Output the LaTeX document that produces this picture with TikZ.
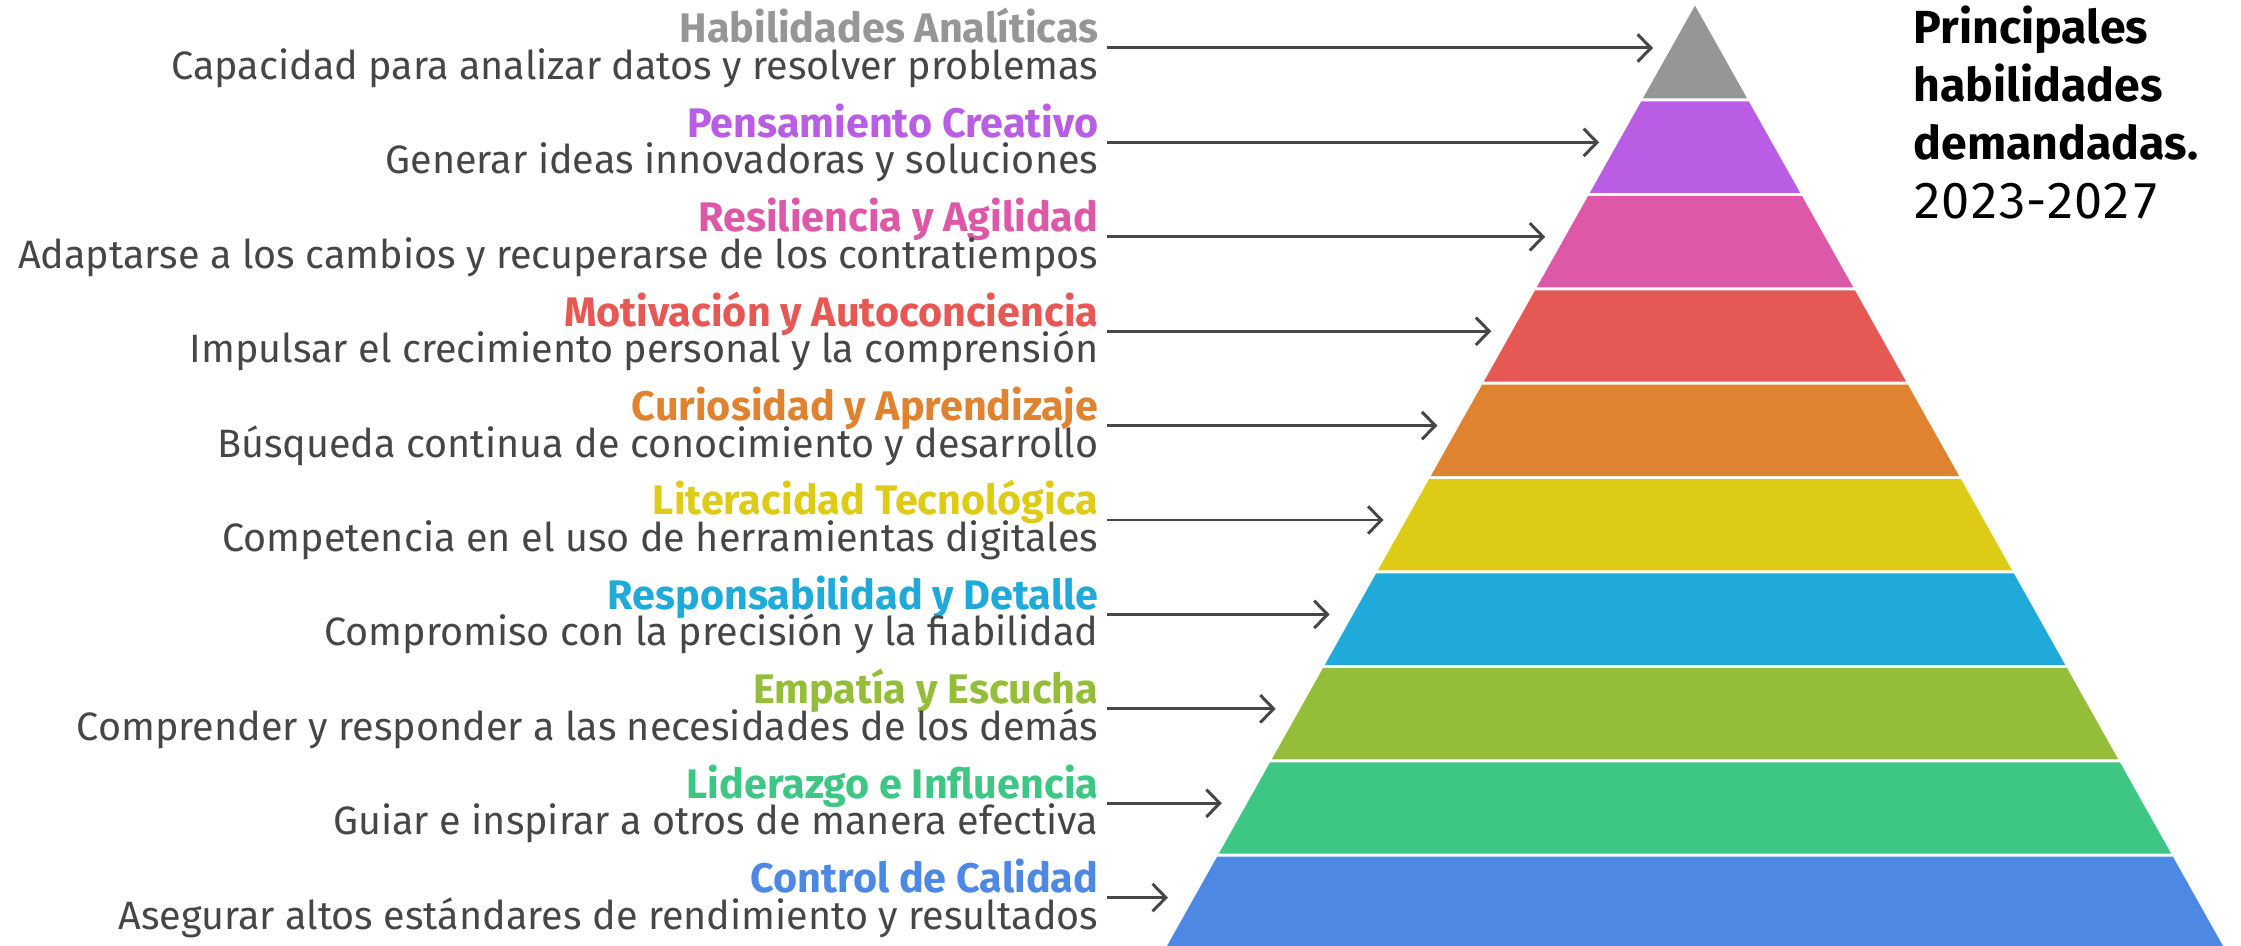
\documentclass[tikz,border=0pt]{standalone}
\usepackage{fontspec}
\setmainfont{Fira Sans}
\usetikzlibrary{arrows.meta}
\definecolor{skgray}{RGB}{150,150,150}
\definecolor{skpurple}{RGB}{185,94,228}
\definecolor{skpink}{RGB}{221,88,166}
\definecolor{skred}{RGB}{229,88,84}
\definecolor{skorange}{RGB}{223,131,49}
\definecolor{skyellow}{RGB}{222,203,22}
\definecolor{sksky}{RGB}{31,170,218}
\definecolor{skolive}{RGB}{148,189,57}
\definecolor{skgreen}{RGB}{62,198,133}
\definecolor{skblue}{RGB}{78,136,229}
\definecolor{sktext}{RGB}{70,70,70}

\begin{document}
\begin{tikzpicture}[x=0.01cm,y=-0.01cm,
  skilltitle/.style={anchor=base east,inner sep=0pt,font=\fontsize{11.75}{14}\selectfont\bfseries},
  skilldesc/.style={anchor=base east,inner sep=0pt,text=sktext,font=\fontsize{11.25}{13.5}\selectfont},
  skillarrow/.style={draw=sktext,line width=0.85pt,-{Straight Barb[length=3.8pt,width=7.8pt,line width=0.85pt]}},
  headline/.style={anchor=base west,inner sep=0pt,font=\fontsize{13.2}{16}\selectfont}]
\useasboundingbox (0,0) rectangle (2241,946);

% Pyramid bands, top to bottom
\fill[skgray] (1695,5.6) -- (1747.2,98.5) -- (1642.8,98.5) -- cycle;
\fill[skpurple] (1641.2,101.5) -- (1748.8,101.5) -- (1800.2,192.9) -- (1589.8,192.9) -- cycle;
\fill[skpink] (1588.1,195.9) -- (1801.9,195.9) -- (1853.2,287.3) -- (1536.8,287.3) -- cycle;
\fill[skred] (1535.1,290.3) -- (1854.9,290.3) -- (1906.2,381.7) -- (1483.8,381.7) -- cycle;
\fill[skorange] (1482.1,384.7) -- (1907.9,384.7) -- (1959.2,476.1) -- (1430.8,476.1) -- cycle;
\fill[skyellow] (1429.1,479.1) -- (1960.9,479.1) -- (2012.2,570.5) -- (1377.8,570.5) -- cycle;
\fill[sksky] (1376.1,573.5) -- (2013.9,573.5) -- (2065.2,664.9) -- (1324.8,664.9) -- cycle;
\fill[skolive] (1323.1,667.9) -- (2066.9,667.9) -- (2118.2,759.3) -- (1271.8,759.3) -- cycle;
\fill[skgreen] (1270.1,762.3) -- (2119.9,762.3) -- (2171.2,853.7) -- (1218.8,853.7) -- cycle;
\fill[skblue] (1217.1,856.7) -- (2172.9,856.7) -- (2223,946) -- (1167,946) -- cycle;

% Labels and pointers
\node[skilltitle,text=skgray] (title0) at (1099,43) {Habilidades Analíticas};
\node[skilldesc] (desc0) at (1099,79.5) {Capacidad para analizar datos y resolver problemas};
\coordinate (from0) at (1107,48);
\coordinate (tip0) at (1653,48);
\draw[skillarrow] (from0) -- (tip0);

\node[skilltitle,text=skpurple] (title1) at (1099,137.4) {Pensamiento Creativo};
\node[skilldesc] (desc1) at (1099,173.9) {Generar ideas innovadoras y soluciones};
\coordinate (from1) at (1107,142.4);
\coordinate (tip1) at (1599.1,142.4);
\draw[skillarrow] (from1) -- (tip1);

\node[skilltitle,text=skpink] (title2) at (1099,231.8) {Resiliencia y Agilidad};
\node[skilldesc] (desc2) at (1099,268.3) {Adaptarse a los cambios y recuperarse de los contratiempos};
\coordinate (from2) at (1107,236.8);
\coordinate (tip2) at (1545.2,236.8);
\draw[skillarrow] (from2) -- (tip2);

\node[skilltitle,text=skred] (title3) at (1099,326.2) {Motivación y Autoconciencia};
\node[skilldesc] (desc3) at (1099,362.7) {Impulsar el crecimiento personal y la comprensión};
\coordinate (from3) at (1107,331.2);
\coordinate (tip3) at (1491.3,331.2);
\draw[skillarrow] (from3) -- (tip3);

\node[skilltitle,text=skorange] (title4) at (1099,420.6) {Curiosidad y Aprendizaje};
\node[skilldesc] (desc4) at (1099,457.1) {Búsqueda continua de conocimiento y desarrollo};
\coordinate (from4) at (1107,425.6);
\coordinate (tip4) at (1437.4,425.6);
\draw[skillarrow] (from4) -- (tip4);

\node[skilltitle,text=skyellow] (title5) at (1099,515) {Literacidad Tecnológica};
\node[skilldesc] (desc5) at (1099,551.5) {Competencia en el uso de herramientas digitales};
\coordinate (from5) at (1107,520);
\coordinate (tip5) at (1383.5,520);
\draw[skillarrow] (from5) -- (tip5);

\node[skilltitle,text=sksky] (title6) at (1099,609.4) {Responsabilidad y Detalle};
\node[skilldesc] (desc6) at (1099,645.9) {Compromiso con la precisión y la fiabilidad};
\coordinate (from6) at (1107,614.4);
\coordinate (tip6) at (1329.6,614.4);
\draw[skillarrow] (from6) -- (tip6);

\node[skilltitle,text=skolive] (title7) at (1099,703.8) {Empatía y Escucha};
\node[skilldesc] (desc7) at (1099,740.3) {Comprender y responder a las necesidades de los demás};
\coordinate (from7) at (1107,708.8);
\coordinate (tip7) at (1275.7,708.8);
\draw[skillarrow] (from7) -- (tip7);

\node[skilltitle,text=skgreen] (title8) at (1099,798.2) {Liderazgo e Influencia};
\node[skilldesc] (desc8) at (1099,834.7) {Guiar e inspirar a otros de manera efectiva};
\coordinate (from8) at (1107,803.2);
\coordinate (tip8) at (1221.8,803.2);
\draw[skillarrow] (from8) -- (tip8);

\node[skilltitle,text=skblue] (title9) at (1099,892.6) {Control de Calidad};
\node[skilldesc] (desc9) at (1099,929.1) {Asegurar altos estándares de rendimiento y resultados};
\coordinate (from9) at (1107,897.6);
\coordinate (tip9) at (1168,897.6);
\draw[skillarrow] (from9) -- (tip9);

% Heading
\node[headline,font=\fontsize{13.2}{16}\selectfont\bfseries] (head1) at (1913,43.5) {Principales};
\node[headline,font=\fontsize{13.2}{16}\selectfont\bfseries] (head2) at (1913,101.5) {habilidades};
\node[headline,font=\fontsize{13.2}{16}\selectfont\bfseries] (head3) at (1913,160) {demandadas.};
\node[headline,font=\fontsize{14.3}{16}\selectfont\addfontfeatures{Numbers=Monospaced}] (head4) at (1913,219) {2023-2027};
\end{tikzpicture}
\end{document}
